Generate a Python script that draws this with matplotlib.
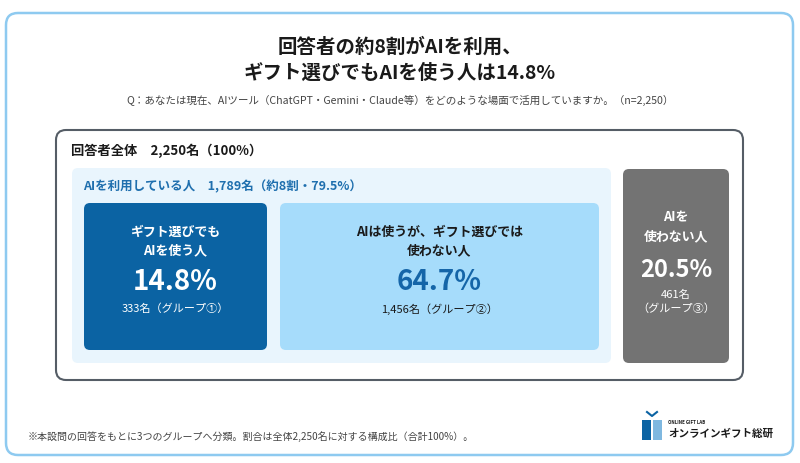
import matplotlib.pyplot as plt
from matplotlib.patches import FancyBboxPatch, Rectangle

plt.rcParams['font.family'] = ['Noto Sans CJK JP', 'DejaVu Sans']

# データ
title_lines = ["回答者の約8割がAIを利用、", "ギフト選びでもAIを使う人は14.8%"]
question = "Q：あなたは現在、AIツール（ChatGPT・Gemini・Claude等）をどのような場面で活用していますか。（n=2,250）"
total_label = "回答者全体　2,250名（100%）"
ai_user_label = "AIを利用している人　1,789名（約8割・79.5%）"
group_titles = ["ギフト選びでも\nAIを使う人", "AIは使うが、ギフト選びでは\n使わない人", "AIを\n使わない人"]
group_pcts = [14.8, 64.7, 20.5]
group_counts = ["333名（グループ①）", "1,456名（グループ②）", "461名\n（グループ③）"]
footnote = "※本設問の回答をもとに3つのグループへ分類。割合は全体2,250名に対する構成比（合計100%）。"

# 見た目
box_x = [(84, 267), (280, 599), (623, 729)]
box_y = [(203, 350), (203, 350), (169, 363)]
box_face = ["#0b63a3", "#a6dcfb", "#737373"]
title_col = ["white", "#1a1a1a", "white"]
pct_col = ["white", "#1565a8", "white"]
cnt_col = ["white", "#1a1a1a", "white"]

fig = plt.figure(figsize=(8, 4.63), dpi=100)
ax = fig.add_axes([0, 0, 1, 1])
ax.set_xlim(0, 800)
ax.set_ylim(463, 0)
ax.axis("off")


def rbox(x0, x1, y0, y1, r, **kw):
    p = FancyBboxPatch((x0, y0), x1 - x0, y1 - y0,
                       boxstyle=f"round,pad=0,rounding_size={r}", **kw)
    ax.add_patch(p)


# 外枠
rbox(6, 793, 13, 455, 12, facecolor="white", edgecolor="#8ecaf0", linewidth=1.8)

ax.text(400, 47, title_lines[0], ha="center", va="center", fontsize=14, fontweight="bold", color="#1a1a1a")
ax.text(400, 73, title_lines[1], ha="center", va="center", fontsize=14, fontweight="bold", color="#1a1a1a")
ax.text(400, 100, question, ha="center", va="center", fontsize=7.6, color="#444444")

# 回答者全体
rbox(56, 743, 130, 380, 10, facecolor="white", edgecolor="#555d66", linewidth=1.5)
ax.text(71, 151, total_label, ha="left", va="center", fontsize=9.5, fontweight="bold", color="#1a1a1a")

# AI利用者
rbox(72, 611, 168, 363, 6, facecolor="#e9f5fd", edgecolor="none")
ax.text(83, 187, ai_user_label, ha="left", va="center", fontsize=9, fontweight="bold", color="#1f6fae")

for i in range(3):
    x0, x1 = box_x[i]
    y0, y1 = box_y[i]
    rbox(x0, x1, y0, y1, 6, facecolor=box_face[i], edgecolor="none")
    cx = (x0 + x1) / 2
    if i < 2:
        ty, py, cy = 241, 282, 309
    else:
        ty, py, cy = 227, 270, 302
    ax.text(cx, ty, group_titles[i], ha="center", va="center", fontsize=9.3, fontweight="bold",
            color=title_col[i], linespacing=1.45)
    ax.text(cx, py, f"{group_pcts[i]:.1f}%", ha="center", va="center", fontsize=20 if i < 2 else 17,
            fontweight="bold", color=pct_col[i])
    ax.text(cx, cy, group_counts[i], ha="center", va="center", fontsize=8, color=cnt_col[i],
            linespacing=1.45)

ax.text(28, 437, footnote, ha="left", va="center", fontsize=7.2, color="#444444")

# ロゴ
ax.add_patch(Rectangle((642, 420), 9, 20, facecolor="#0b63a3", edgecolor="none"))
ax.add_patch(Rectangle((653, 420), 9, 20, facecolor="#7fb8e0", edgecolor="none"))
ax.plot([647, 652, 657], [412, 416, 412], color="#0b63a3", linewidth=1.5)
ax.text(668, 422, "ONLINE GIFT LAB", ha="left", va="center", fontsize=3.2, fontweight="bold", color="#1a1a1a")
ax.text(668, 434, "オンラインギフト総研", ha="left", va="center", fontsize=7.6, fontweight="bold", color="#1a1a1a")

fig.savefig("out.png", dpi=100)
